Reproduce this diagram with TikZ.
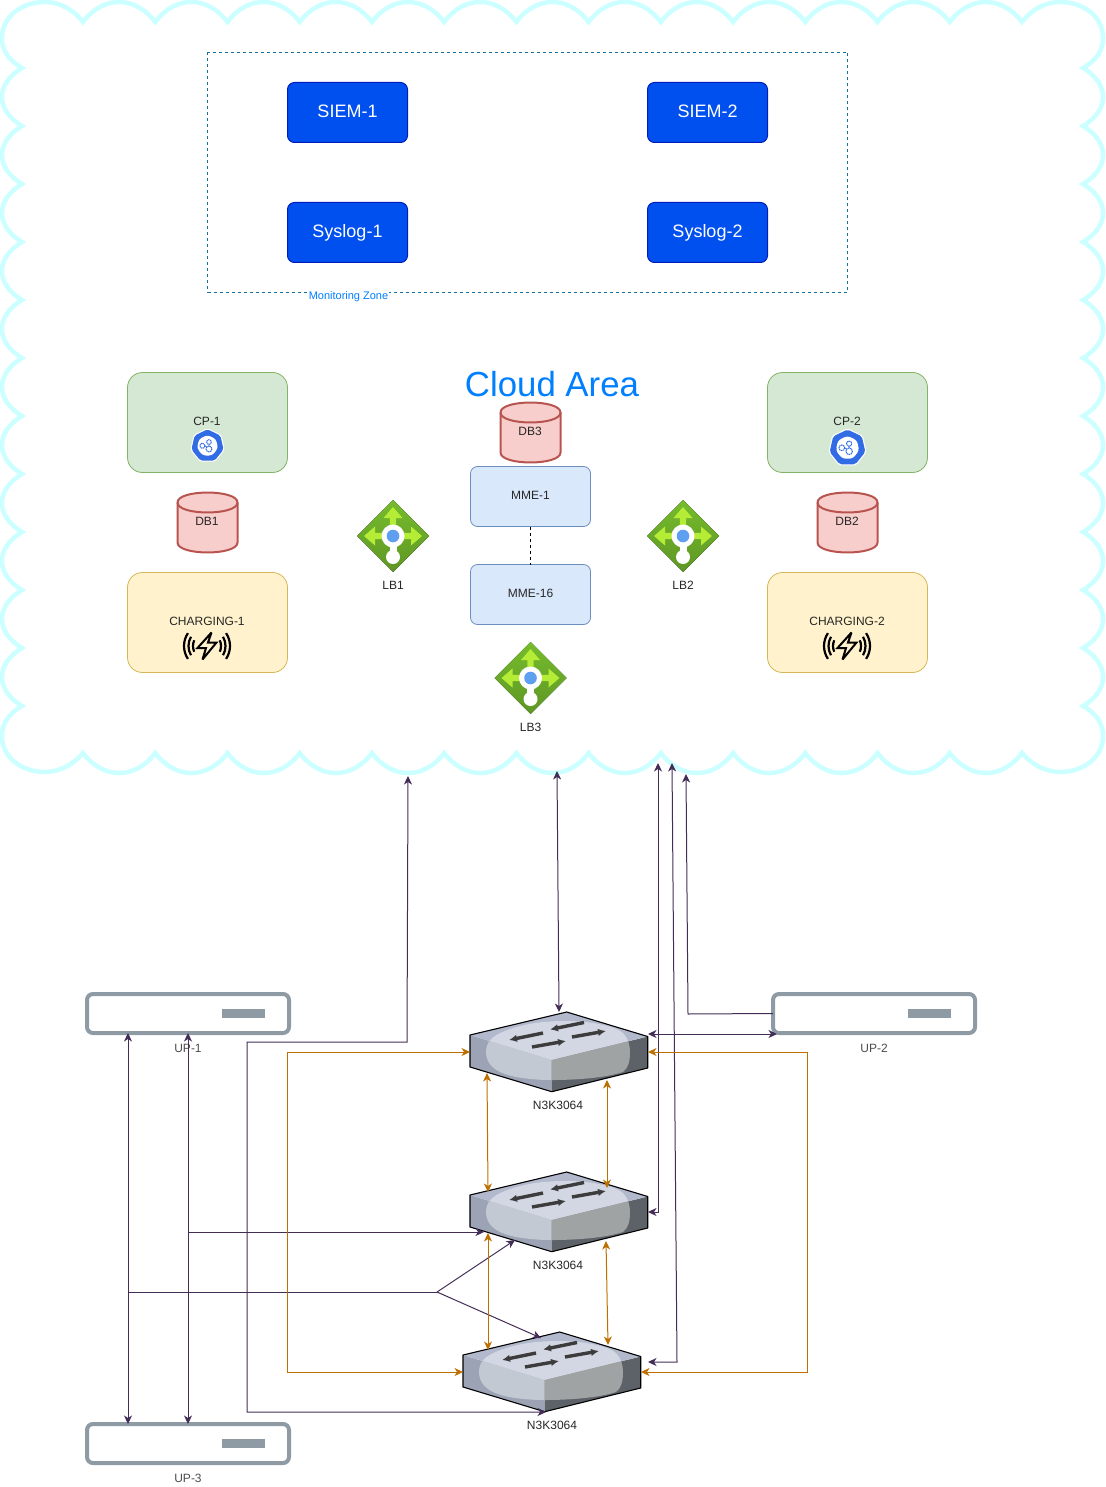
\documentclass[tikz,border=0pt]{standalone}
\usepackage{fontspec}
\setmainfont{Liberation Sans}
\usetikzlibrary{arrows.meta}
\tikzset{
  >={Stealth[length=8.5pt,width=8pt,inset=2.5pt]},
  lbl/.style={inner sep=0pt, outer sep=0pt, font=\fontsize{12}{14}\selectfont, text=black!85},
  bluebox/.style={draw=siemline, fill=siemfill, line width=1pt, rounded corners=7pt, minimum width=120pt, minimum height=60pt, inner sep=0pt, outer sep=0pt, text=white, font=\fontsize{18}{21}\selectfont, text height=13pt, text depth=3pt},
  cpbox/.style={draw=cpline, fill=cpfill, line width=0.8pt, rounded corners=15pt, minimum width=160pt, minimum height=100pt, inner sep=0pt, outer sep=0pt, font=\fontsize{12}{14}\selectfont, text=black!85},
  chargebox/.style={cpbox, draw=chline, fill=chfill},
  mmebox/.style={draw=mmeline, fill=mmefill, line width=0.8pt, rounded corners=7pt, minimum width=120pt, minimum height=60pt, inner sep=0pt, outer sep=0pt, font=\fontsize{12}{14}\selectfont, text=black!85, text height=8.6pt, text depth=2.6pt},
  upbox/.style={draw=upline, fill=white, line width=4pt, rounded corners=6pt, minimum width=202pt, minimum height=39pt, inner sep=0pt, outer sep=0pt},
  swbox/.style={minimum width=178pt, minimum height=80pt, inner sep=0pt, outer sep=0pt},
  dataline/.style={draw=dataline, line width=1pt},
  orangeline/.style={draw=orangeline, line width=1pt},
  dbcan/.pic={
    \fill[dbfill] (-30,-20) .. controls (-30,-33.3) and (30,-33.3) .. (30,-20) -- (30,20) .. controls (30,33.3) and (-30,33.3) .. (-30,20) -- cycle;
    \draw[dbline, line width=2pt, line join=round] (-30,20) -- (-30,-20) .. controls (-30,-33.3) and (30,-33.3) .. (30,-20) -- (30,20) .. controls (30,33.3) and (-30,33.3) .. (-30,20);
    \draw[dbline, line width=2pt] (-30,-20) .. controls (-30,-6.7) and (30,-6.7) .. (30,-20);
  },
  kubeicon/.pic={
    \fill[white, rounded corners=2pt] (-90:18) \foreach \k in {1,...,6} { -- ({-90+\k*51.43}:18) } -- cycle;
    \fill[kubeblue, rounded corners=2pt] (-90:16.8) \foreach \k in {1,...,6} { -- ({-90+\k*51.43}:16.8) } -- cycle;
    \fill[white, rounded corners=3pt] (-90:11) \foreach \k in {1,...,6} { -- ({-90+\k*51.43}:11) } -- cycle;
    \draw[kubeblue, line width=1pt, dash pattern=on 1.4pt off 0.6pt] (-5.2,0) circle (2.6) (1.5,-3.8) circle (2.4) (1.5,3.2) circle (3);
    \draw[kubeblue, line width=0.8pt] (-2.5,0) -- (-0.5,1.5) (1.5,-1.4) -- (1.5,0.2);
  },
  lbicon/.pic={
    \fill[top color=lbtop, bottom color=lbbot] (0,-36) -- (36,0) -- (0,36) -- (-36,0) -- cycle;
    \fill[lblight] (0,-29) -- (9.5,-18) -- (3.2,-18) -- (3.2,0) -- (-3.2,0) -- (-3.2,-18) -- (-9.5,-18) -- cycle;
    \fill[lblight] (-29,0) -- (-18,-9.5) -- (-18,-3.2) -- (18,-3.2) -- (18,-9.5) -- (29,0) -- (18,9.5) -- (18,3.2) -- (-18,3.2) -- (-18,9.5) -- cycle;
    \fill[white] (0,0) circle (11.5);
    \fill[white] (-3.5,8) rectangle (3.5,16);
    \fill[white] (0,21) circle (7);
    \fill[lbblue] (0,0) circle (6.3);
  },
  chargeicon/.pic={
    \draw[black, line width=2pt, line join=miter, miter limit=4] (4.5,-13.5) -- (-9.5,2) -- (-1,2) -- (-4.5,13.5) -- (9.5,-3.5) -- (1,-3.5) -- cycle;
    \foreach \r/\a in {14/24, 18.5/30, 23/34} {
      \draw[black, line width=2.2pt] (-\a:\r) arc[start angle=-\a, end angle=\a, radius=\r];
      \draw[black, line width=2.2pt] ({180-\a}:\r) arc[start angle=180-\a, end angle=180+\a, radius=\r];
    }
  },
  netswitch/.pic={
    \fill[swleft] (0,23) -- (81.7,48) -- (81.7,79.7) -- (0,55) -- cycle;
    \fill[swright] (81.7,48) -- (177.7,24.5) -- (177.7,56) -- (81.7,79.7) -- cycle;
    \fill[swtop] (96.7,0) -- (177.7,24.5) -- (81.7,48) -- (0,23) -- cycle;
    \begin{scope}
      \clip (16,40) .. controls (16,30) and (22,24) .. (35,19) .. controls (55,11) and (75,9) .. (97,9) .. controls (120,9) and (145,14) .. (153,21) .. controls (158,26) and (160,33) .. (160,40) .. controls (160,50) and (158,56) .. (153,60) .. controls (135,66) and (105,68) .. (82,68) .. controls (60,68) and (40,65) .. (30,60) .. controls (20,55) and (16,48) .. (16,40) -- cycle;
      \fill[swblobtop] (96.7,0) -- (177.7,24.5) -- (81.7,48) -- (0,23) -- cycle;
      \fill[swblobleft] (0,23) -- (81.7,48) -- (81.7,79.7) -- (0,55) -- cycle;
      \fill[swblobright] (81.7,48) -- (177.7,24.5) -- (177.7,56) -- (81.7,79.7) -- cycle;
    \end{scope}
    \draw[black, line width=1.1pt, line join=round] (96.7,0) -- (177.7,24.5) -- (177.7,56) -- (81.7,79.7) -- (0,55) -- (0,23) -- cycle;
    \foreach \ax/\ay/\bx/\by in {73/21/39/28, 114/10.5/80/17.5, 62/35/96/29, 102/25/136/19}
      \draw[swarrow, line width=3.4pt, -{Latex[length=8pt,width=7.5pt]}] (\ax,\ay) -- (\bx,\by);
  },
}
\begin{document}
\begin{tikzpicture}[x=1pt, y=-1pt]
\definecolor{cloudline}{HTML}{CCFFFF}
\definecolor{zoneline}{HTML}{10739E}
\definecolor{azure}{HTML}{007FFF}
\definecolor{siemfill}{HTML}{0050EF}
\definecolor{siemline}{HTML}{001DBC}
\definecolor{cpfill}{HTML}{D5E8D4}
\definecolor{cpline}{HTML}{82B366}
\definecolor{chfill}{HTML}{FFF2CC}
\definecolor{chline}{HTML}{D6B656}
\definecolor{mmefill}{HTML}{DAE8FC}
\definecolor{mmeline}{HTML}{6C8EBF}
\definecolor{dbfill}{HTML}{F8CECC}
\definecolor{dbline}{HTML}{B85450}
\definecolor{kubeblue}{HTML}{326CE5}
\definecolor{lbtop}{HTML}{76BC2D}
\definecolor{lbbot}{HTML}{5E9624}
\definecolor{lblight}{HTML}{B4EC36}
\definecolor{lbblue}{HTML}{5EA0EF}
\definecolor{upline}{HTML}{8E9BA5}
\definecolor{dataline}{HTML}{432D57}
\definecolor{orangeline}{HTML}{BD7000}
\definecolor{swleft}{HTML}{9BA3B5}
\definecolor{swright}{HTML}{5D6269}
\definecolor{swtop}{HTML}{B3B9CC}
\definecolor{swblobtop}{HTML}{D3D7E4}
\definecolor{swblobleft}{HTML}{C3C9D3}
\definecolor{swblobright}{HTML}{9FA3A3}
\definecolor{swarrow}{HTML}{3C3C3C}
\useasboundingbox (0,0) rectangle (1105,1487);
\draw[cloudline, line width=4.5pt, line join=miter] (22,68) .. controls (8,60) and (2,50) .. (2,38) .. controls (2,17) and (21,2) .. (45,2) .. controls (60,2) and (74,10) .. (83,22)
  \foreach \k in {0,...,12} { .. controls ({83+72.23*\k+20},-4.7) and ({83+72.23*\k+52},-4.7) .. ({83+72.23*(\k+1)},22) }
  .. controls (1031,10) and (1045,2) .. (1060,2) .. controls (1084,2) and (1103,17) .. (1103,38) .. controls (1103,50) and (1097,60) .. (1083,68)
  \foreach \k in {0,...,10} { .. controls (1109.7,{68+58*\k+16}) and (1109.7,{68+58*\k+42}) .. (1083,{68+58*(\k+1)}) }
  .. controls (1097,714) and (1103,724) .. (1103,736) .. controls (1103,757) and (1084,772) .. (1060,772) .. controls (1045,772) and (1031,764) .. (1022,753)
  \foreach \k in {0,...,12} { .. controls ({1022-72.23*\k-20},779.7) and ({1022-72.23*\k-52},779.7) .. ({1022-72.23*(\k+1)},753) }
  .. controls (74,764) and (60,772) .. (45,772) .. controls (21,772) and (2,757) .. (2,736) .. controls (2,724) and (8,714) .. (22,706)
  \foreach \k in {0,...,10} { .. controls (-4.7,{706-58*\k-16}) and (-4.7,{706-58*\k-42}) .. (22,{706-58*(\k+1)}) }
  -- cycle;
\draw[zoneline, line width=0.8pt, dash pattern=on 3pt off 3pt] (207.5,52.5) rectangle (847.5,292.5);
\node[fill=white, inner sep=1pt, text=azure, font=\fontsize{11}{13}\selectfont] (zonelabel) at (348.5,296.5) {Monitoring Zone};
\node[text=azure, inner sep=0pt, font=\fontsize{34.8}{40}\selectfont] (cloudtitle) at (552,384) {Cloud Area};

\node[bluebox] (siem1) at (347.5,112.5) {SIEM-1};
\node[bluebox] (siem2) at (707.5,112.5) {SIEM-2};
\node[bluebox] (syslog1) at (347.5,232.5) {Syslog-1};
\node[bluebox] (syslog2) at (707.5,232.5) {Syslog-2};

\node[cpbox] (cp1) at (207.5,422.5) {};
\node[lbl] (cp1label) at (207,421) {CP-1};
\pic[scale=0.98] at (207.5,445.8) {kubeicon};
\node[cpbox] (cp2) at (847.5,422.5) {};
\node[lbl] (cp2label) at (847,421) {CP-2};
\pic[scale=1.09] at (847.5,447.8) {kubeicon};

\pic at (207.5,522.5) {dbcan};
\node[lbl] (db1) at (207,521) {DB1};
\pic at (847.5,522.5) {dbcan};
\node[lbl] (db2) at (847,521) {DB2};
\pic at (530.5,432.5) {dbcan};
\node[lbl] (db3) at (530,431) {DB3};

\node[chargebox] (ch1) at (207.5,622.5) {};
\node[lbl] (ch1label) at (207,621) {CHARGING-1};
\pic at (207,646) {chargeicon};
\node[chargebox] (ch2) at (847.5,622.5) {};
\node[lbl] (ch2label) at (847,621) {CHARGING-2};
\pic at (847,646) {chargeicon};

\node[mmebox] (mme1) at (530.5,496.5) {MME-1};
\node[mmebox] (mme16) at (530.5,594.5) {MME-16};
\draw[black, line width=0.8pt, dash pattern=on 3pt off 3pt] (mme1) -- (mme16);

\pic at (393,536) {lbicon};
\node[lbl] (lb1) at (393,585) {LB1};
\pic at (683,536) {lbicon};
\node[lbl] (lb2) at (683,585) {LB2};
\pic at (530.5,678) {lbicon};
\node[lbl] (lb3) at (530.5,727) {LB3};

\node[upbox] (up1) at (188,1013.5) {};
\fill[upline] (222,1009) rectangle (265,1018);
\node[lbl, text=black!70] (up1label) at (188,1048) {UP-1};
\node[upbox] (up2) at (874,1013.5) {};
\fill[upline] (908,1009) rectangle (951,1018);
\node[lbl, text=black!70] (up2label) at (874,1048) {UP-2};
\node[upbox] (up3) at (188,1443.5) {};
\fill[upline] (222,1439) rectangle (265,1448);
\node[lbl, text=black!70] (up3label) at (188,1478) {UP-3};

\node[swbox] (sw1) at (559,1052) {};
\pic at (sw1.north west) {netswitch};
\node[lbl] (sw1label) at (558,1105) {N3K3064};
\node[swbox] (sw2) at (559,1212) {};
\pic at (sw2.north west) {netswitch};
\node[lbl] (sw2label) at (558,1265) {N3K3064};
\node[swbox] (sw3) at (552,1372) {};
\pic at (sw3.north west) {netswitch};
\node[lbl] (sw3label) at (552,1425) {N3K3064};

\coordinate (clouda) at (408,776);
\coordinate (cloudb) at (557,771);
\coordinate (cloudc) at (658,763);
\coordinate (cloudd) at (672,763);
\coordinate (cloude) at (686,774);
\coordinate (forkpt) at (437,1292);

\draw[dataline, <->] (clouda) -- (407,1042) -- (247,1042) -- (247,1412) -- ([xshift=-6]sw3.south);
\draw[dataline, <->] (cloudb) -- (sw1.north);
\draw[dataline, <->] (cloudc) -- (658,1212) -- (sw2.east);
\draw[dataline, <->] (cloudd) -- (677,1362) -- ([shift={(7,-10)}]sw3.east);
\draw[dataline, <-] (cloude) -- (688,1014) -- (up2.west);
\draw[dataline, <->] ([shift={(0,-18)}]sw1.east) -- ([shift={(4,1)}]up2.south west);
\draw[dataline, <->] ([xshift=41]up1.south west) -- ([xshift=41]up3.north west);
\draw[dataline, <->] (up1.south) -- (up3.north);
\draw[dataline, ->] (188,1232) -- ([shift={(14,20)}]sw2.west);
\draw[dataline] (128,1292) -- (forkpt);
\draw[dataline, ->] (forkpt) -- ([shift={(45,28)}]sw2.west);
\draw[dataline, ->] (forkpt) -- ([shift={(78,-34)}]sw3.west);

\draw[orangeline, <->] (sw1.west) -- (287,1052) -- (287,1372) -- (sw3.west);
\draw[orangeline, <->] (sw1.east) -- (807,1052) -- (807,1372) -- (sw3.east);
\draw[orangeline, <->] ([shift={(17,21)}]sw1.west) -- ([shift={(18,-20)}]sw2.west);
\draw[orangeline, <->] ([shift={(-41,28)}]sw1.east) -- ([shift={(-41,-24)}]sw2.east);
\draw[orangeline, <->] ([shift={(18,21)}]sw2.west) -- ([shift={(25,-22)}]sw3.west);
\draw[orangeline, <->] ([shift={(-42,29)}]sw2.east) -- ([shift={(-33,-27)}]sw3.east);
\end{tikzpicture}
\end{document}
